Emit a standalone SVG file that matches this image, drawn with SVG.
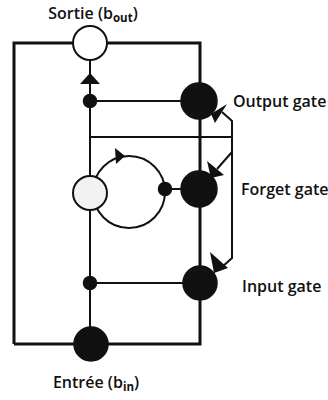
<svg xmlns="http://www.w3.org/2000/svg" width="328" height="400" viewBox="0 0 328 400">
<style>
.thick{fill:none;stroke:#111;stroke-width:3}
.ln{fill:none;stroke:#111;stroke-width:2}
.blk{fill:#111;stroke:#111;stroke-width:1.5}
.wht{fill:#fff;stroke:#111;stroke-width:2}
.ah{fill:#111}
.lbl{font-family:"Open Sans","Noto Sans",sans-serif;font-size:16px;font-weight:600;fill:#111}
.sub{font-size:11.5px;font-weight:700}
</style>
<rect width="328" height="400" fill="#fff"/>
<g id="connectors">
<path class="thick" d="M14,344 V43 H200 V344 H14"/>
<path class="ln" d="M90,60 V344"/>
<path class="ln" d="M90,101 H200"/>
<path class="ln" d="M90,137 H232"/>
<path class="ln" d="M90,283 H200"/>
<path class="ln" d="M165,189 H200"/>
<path class="ln" d="M222,112 L232,121 V258 L222,267"/>
<path class="ln" d="M232,152 L217,169"/>
<circle class="ln" cx="129" cy="192" r="36"/>
<polygon class="ah" points="90,73 80,84 100,84"/>
<polygon class="ah" points="125,156 115,148 116,164"/>
<polygon class="ah" points="227,104 215,123 211,114"/>
<polygon class="ah" points="207,161 224,175 211,178"/>
<polygon class="ah" points="210,252 228,268 214,273"/>
</g>
<g id="sortie">
<circle class="wht" cx="90" cy="43" r="17"/>
<text class="lbl" x="93" y="19" text-anchor="middle">Sortie (b<tspan class="sub" dy="3">out</tspan><tspan dy="-3">)</tspan></text>
</g>
<g id="entree">
<circle class="blk" cx="91" cy="344" r="17"/>
<text class="lbl" x="96" y="388" text-anchor="middle">Entrée (b<tspan class="sub" dy="3">in</tspan><tspan dy="-3">)</tspan></text>
</g>
<g id="cell">
<circle cx="90" cy="193" r="17" fill="#f2f2f2" stroke="#111" stroke-width="2"/>
</g>
<g id="dot-out"><circle class="blk" cx="90" cy="101" r="6.5"/></g>
<g id="dot-forget"><circle class="blk" cx="165" cy="189" r="6.5"/></g>
<g id="dot-in"><circle class="blk" cx="90" cy="283" r="6.5"/></g>
<g id="output-gate">
<circle class="blk" cx="199" cy="101" r="18"/>
<text class="lbl" x="233" y="107">Output gate</text>
</g>
<g id="forget-gate">
<circle class="blk" cx="199" cy="189" r="18"/>
<text class="lbl" x="241" y="195">Forget gate</text>
</g>
<g id="input-gate">
<circle class="blk" cx="200" cy="283" r="17"/>
<text class="lbl" x="242" y="292">Input gate</text>
</g>
</svg>
